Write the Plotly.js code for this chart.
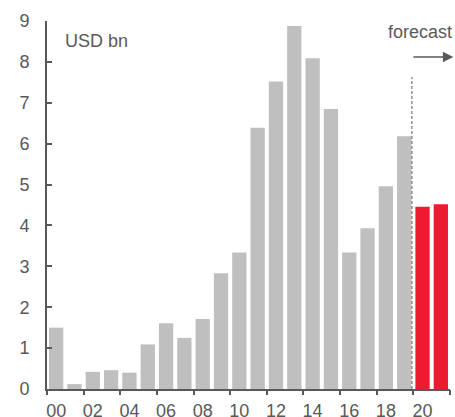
<!DOCTYPE html>
<html>
<head>
<meta charset="utf-8">
<script src="https://cdn.plot.ly/plotly-3.0.1.min.js"></script>
<style>html,body{margin:0;padding:0;background:#fff;}#chart{width:455px;height:417px;}</style>
</head>
<body>
<div id="chart"></div>
<script>
// Data
const years = [2000,2001,2002,2003,2004,2005,2006,2007,2008,2009,2010,2011,2012,2013,2014,2015,2016,2017,2018,2019,2020,2021];
const values = [1.50,0.12,0.42,0.46,0.40,1.09,1.61,1.25,1.71,2.83,3.34,6.39,7.52,8.88,8.09,6.85,3.34,3.93,4.96,6.18,4.46,4.52];
const isForecast = [false,false,false,false,false,false,false,false,false,false,false,false,false,false,false,false,false,false,false,false,true,true];
const tickLabelYears = [2000,2002,2004,2006,2008,2010,2012,2014,2016,2018,2020];
const tickLabels = ["00","02","04","06","08","10","12","14","16","18","20"];
const yTicks = [0,1,2,3,4,5,6,7,8,9];

const grey = '#bfbfbf', red = '#ed1b2f', ink = '#595959';
const font = {family: 'Liberation Sans, Arial, sans-serif', size: 18, color: ink};

const barColors = isForecast.map(f => f ? red : grey);
const firstForecast = years[isForecast.indexOf(true)];
const boundaries = tickLabelYears.map(y => y - 0.5).concat([years[years.length-1] + 0.5]);

const traces = [
  {type: 'bar', x: years, y: values, marker: {color: barColors}, width: 0.78, hoverinfo: 'x+y', xaxis: 'x', yaxis: 'y'},
  {type: 'scatter', x: boundaries, y: boundaries.map(() => 0), mode: 'markers', marker: {opacity: 0}, xaxis: 'x2', yaxis: 'y', hoverinfo: 'skip', showlegend: false}
];

const layout = {
  width: 455, height: 417,
  margin: {l: 47, r: 5, t: 21, b: 28},
  paper_bgcolor: '#fff', plot_bgcolor: '#fff',
  showlegend: false,
  font: font,
  bargap: 0.22,
  xaxis: {
    range: [years[0] - 0.5, years[years.length-1] + 0.5],
    tickmode: 'array', tickvals: tickLabelYears, ticktext: tickLabels,
    ticks: '', showgrid: false, zeroline: false,
    showline: true, linecolor: ink, linewidth: 2,
    tickfont: font, ticklabelstandoff: 4
  },
  xaxis2: {
    overlaying: 'x', matches: 'x', side: 'bottom',
    range: [years[0] - 0.5, years[years.length-1] + 0.5],
    tickmode: 'array', tickvals: boundaries, showticklabels: false,
    ticks: 'outside', ticklen: 5, tickwidth: 2, tickcolor: ink,
    showgrid: false, zeroline: false, showline: false
  },
  yaxis: {
    range: [0, 9], tickmode: 'array', tickvals: yTicks,
    ticks: 'inside', ticklen: 5, tickwidth: 2, tickcolor: ink,
    showline: true, linecolor: ink, linewidth: 2,
    showgrid: false, zeroline: false,
    tickfont: font, ticklabelstandoff: 12
  },
  shapes: [
    {type: 'line', xref: 'x', yref: 'y', x0: firstForecast - 0.58, x1: firstForecast - 0.58, y0: 0, y1: 7.63,
     line: {color: ink, width: 1, dash: '3px,2px'}}
  ],
  annotations: [
    {xref: 'paper', yref: 'paper', x: 0.040, y: 0.946, xanchor: 'left', yanchor: 'middle',
     text: 'USD bn', showarrow: false, font: font},
    {xref: 'x', yref: 'y', x: 2019.88, y: 8.74, xanchor: 'center', yanchor: 'middle',
     text: 'forecast', showarrow: false, font: font},
    {xref: 'x', yref: 'y', axref: 'x', ayref: 'y', x: 2021.68, y: 8.12, ax: 2019.42, ay: 8.12,
     text: '', showarrow: true, arrowhead: 2, arrowsize: 1.3, arrowwidth: 1.6, arrowcolor: ink}
  ]
};

Plotly.newPlot('chart', traces, layout, {displayModeBar: false, staticPlot: true});
</script>
</body>
</html>
